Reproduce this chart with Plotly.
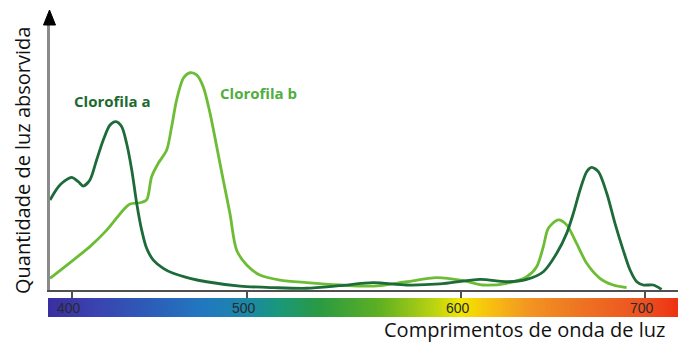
import numpy as np
import plotly.graph_objects as go

# ---------------- data ----------------
CHL_A_NM = [388.5, 393.7, 399.8, 403.3, 405.9, 409.4, 412.9, 416.4, 419.9, 423.0, 426.0, 428.6,
            431.3, 433.9, 436.5, 439.1, 442.6, 447.8, 453.0, 461.8, 470.5, 488.0, 505.4, 522.9,
            540.3, 557.6, 575.2, 592.7, 613.6, 627.6, 638.1, 646.8, 653.8, 659.0, 662.5, 666.0,
            669.5, 672.1, 675.6, 680.0, 684.3, 688.6, 692.2, 695.7, 699.1, 704.4, 708.7]
CHL_A_ABS = [41.5, 48.4, 51.9, 49.9, 47.9, 50.7, 59.9, 69.1, 76.0, 77.6, 75.3, 67.6,
             55.3, 39.9, 27.6, 19.2, 13.8, 10.0, 7.7, 5.4, 3.8, 1.8, 1.1, 0.8,
             2.0, 3.4, 2.3, 2.8, 4.9, 3.8, 4.9, 8.4, 16.9, 26.1, 35.3, 46.1,
             54.5, 56.5, 54.5, 44.6, 30.7, 18.4, 9.2, 3.8, 2.3, 2.3, 0.3]

CHL_B_NM = [388.5, 400.7, 409.4, 418.2, 426.9, 430.4, 435.6, 439.1, 441.7, 445.2, 449.6, 452.2,
            454.8, 458.3, 461.8, 465.3, 468.7, 472.3, 475.8, 479.2, 482.7, 486.2, 491.5, 498.4,
            508.9, 522.9, 540.3, 557.8, 575.2, 590.9, 604.9, 615.3, 627.6, 638.1, 643.3, 646.8,
            649.4, 654.6, 659.0, 664.2, 669.5, 676.4, 683.4, 690.4]
CHL_B_ABS = [5.4, 13.8, 20.0, 27.6, 36.9, 39.6, 40.2, 41.5, 52.2, 58.4, 64.5, 75.3,
             87.6, 97.6, 100.1, 99.1, 93.7, 81.4, 66.0, 50.7, 35.3, 18.4, 11.5, 6.9,
             4.6, 3.4, 2.3, 1.8, 3.8, 5.7, 4.3, 2.3, 3.1, 6.1, 10.7, 20.0,
             28.4, 32.3, 30.0, 21.5, 12.3, 5.4, 2.3, 1.1]

TICK_POS = [400, 491.6, 603.7, 700]
TICK_LABELS = ["400", "500", "600", "700"]

SPECTRUM_NM = [387.5, 414.7, 440.8, 467.0, 491.6, 508.9, 529.8, 561.3, 587.4, 603.7,
               618.8, 639.8, 666.0, 700.0, 717.3]
SPECTRUM_COLORS = ["#3a2ea0", "#3a45b0", "#2c5db8", "#2276c0", "#1a88a8", "#1a9878",
                   "#2a9a42", "#5fb022", "#b4d012", "#f0e600", "#f8c010", "#f29422",
                   "#ee7422", "#ec5020", "#ee3212"]

SERIES_NAMES = ["Clorofila a", "Clorofila b"]
X_TITLE = "Comprimentos de onda de luz"
Y_TITLE = "Quantidade de luz absorvida"

# ---------------- styling ----------------
DARK = "#1d6b38"
LIGHT = "#6cbd35"
FONT = "Open Sans"

X_MIN, X_MAX = 388.5, 717.3
Y_MAX = 122.1

fig = go.Figure()

fig.add_trace(go.Scatter(x=CHL_B_NM, y=CHL_B_ABS, mode="lines", name=SERIES_NAMES[1],
                         line=dict(color=LIGHT, width=2.8, shape="spline", smoothing=0.8),
                         hoverinfo="skip", xaxis="x", yaxis="y"))
fig.add_trace(go.Scatter(x=CHL_A_NM, y=CHL_A_ABS, mode="lines", name=SERIES_NAMES[0],
                         line=dict(color=DARK, width=2.8, shape="spline", smoothing=0.8),
                         hoverinfo="skip", xaxis="x", yaxis="y"))

# spectrum strip
zmin, zmax = SPECTRUM_NM[0], SPECTRUM_NM[-1]
cscale = [[(v - zmin) / (zmax - zmin), c] for v, c in zip(SPECTRUM_NM, SPECTRUM_COLORS)]
strip_x = np.arange(387.5, 718.0, 1.0)
fig.add_trace(go.Heatmap(x=strip_x, y=[0.5], z=[strip_x], colorscale=cscale,
                         zmin=zmin, zmax=zmax, showscale=False, hoverinfo="skip",
                         xaxis="x2", yaxis="y2"))

W, H = 678, 344
ML, MR, MT, MB = 48, 0, 25, 0
PW, PH = W - ML - MR, H - MT - MB


def py(p):  # pixel row -> paper y
    return (H - MB - p) / PH


def px(p):  # pixel column -> paper x
    return (p - ML) / PW


annotations = []
for pos, lab in zip(TICK_POS, TICK_LABELS):
    annotations.append(dict(x=pos, y=0.5, xref="x2", yref="y2", text=lab, showarrow=False,
                            xshift=-3, font=dict(family="Liberation Sans", size=14, color="#2a2a2a")))

annotations += [
    dict(x=399.8, y=87.3, xref="x", yref="y", text="<b>" + SERIES_NAMES[0] + "</b>",
         showarrow=False, xanchor="left", yanchor="middle",
         font=dict(family=FONT, size=15, color="#1c6a2e")),
    dict(x=476.4, y=90.6, xref="x", yref="y", text="<b>" + SERIES_NAMES[1] + "</b>",
         showarrow=False, xanchor="left", yanchor="middle",
         font=dict(family=FONT, size=15, color="#4fae3e")),
    dict(x=px(383), y=py(343.5), xref="paper", yref="paper", text=X_TITLE, showarrow=False,
         xanchor="left", yanchor="bottom", borderpad=0,
         font=dict(family=FONT, size=20, color="#111111")),
    dict(x=px(22), y=py(161), xref="paper", yref="paper", text=Y_TITLE, showarrow=False,
         textangle=-90, xanchor="center", yanchor="middle",
         font=dict(family=FONT, size=20, color="#111111")),
]

shapes = [dict(type="path", xref="paper", yref="paper",
               path=f"M {px(43.5)},{py(25)} L {px(49.5)},{py(10)} L {px(55.5)},{py(25)} Z",
               fillcolor="black", line=dict(color="black", width=1))]

fig.update_layout(
    width=W, height=H,
    margin=dict(l=ML, r=MR, t=MT, b=MB),
    paper_bgcolor="white", plot_bgcolor="white",
    showlegend=False,
    xaxis=dict(domain=[px(50), 1], range=[X_MIN, X_MAX], showgrid=False, zeroline=False,
               showline=True, linecolor="#505050", linewidth=1.5,
               ticks="outside", tickvals=TICK_POS, ticklen=7, tickwidth=1.5, tickcolor="#505050",
               showticklabels=False, anchor="y", fixedrange=True),
    yaxis=dict(domain=[py(290), 1], range=[0, Y_MAX], showgrid=False, zeroline=False,
               showline=True, linecolor="#8a8a8a", linewidth=2.5, showticklabels=False,
               ticks="", anchor="x", fixedrange=True),
    xaxis2=dict(domain=[0, 1], range=[387.45, X_MAX], showgrid=False,
                zeroline=False, showline=False, showticklabels=False, ticks="",
                anchor="y2", fixedrange=True),
    yaxis2=dict(domain=[py(317), py(298)], range=[0, 1], showgrid=False, zeroline=False,
                showline=False, showticklabels=False, ticks="", anchor="x2", fixedrange=True),
    annotations=annotations,
    shapes=shapes,
)

fig.write_html("out.html", config={"displayModeBar": False},
               post_script="document.body.style.margin='0';document.body.style.overflow='hidden';")
